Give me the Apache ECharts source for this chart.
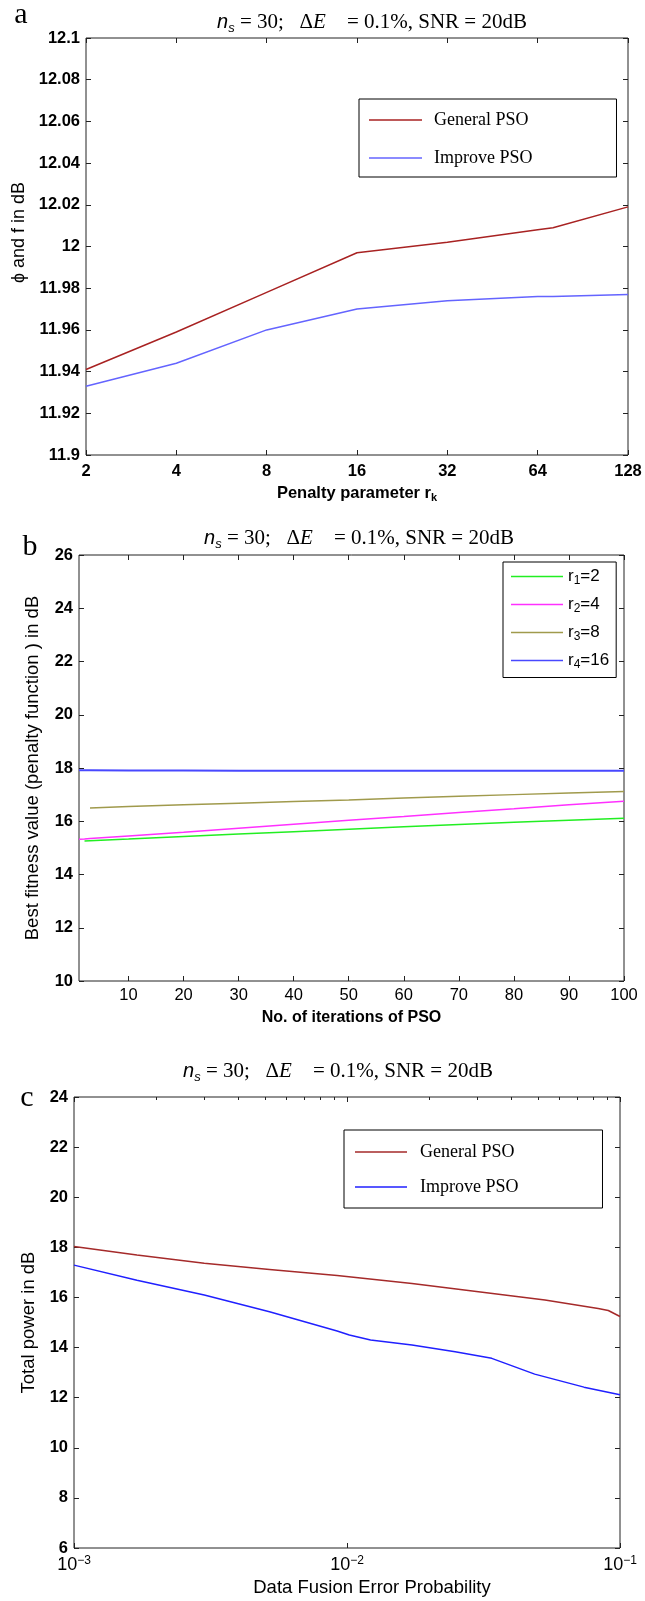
<!DOCTYPE html>
<html>
<head>
<meta charset="utf-8">
<script src="https://cdn.jsdelivr.net/npm/echarts@6/dist/echarts.min.js"></script>
<style>
html, body { margin: 0; padding: 0; background: #fff; }
#chart { width: 645px; height: 1601px; }
</style>
</head>
<body>
<div id="chart"></div>
<script>
// panel a: penalty parameter sweep
var penaltyR = [2, 4, 8, 16, 32, 64, 72, 128];
var generalA = [11.941, 11.959, 11.978, 11.997, 12.002, 12.008, 12.009, 12.019];
var improveA = [11.933, 11.944, 11.960, 11.970, 11.974, 11.976, 11.976, 11.977];
var yTicksA = [11.9, 12.1, 0.02];
var xTicksA = [2, 4, 8, 16, 32, 64, 128];

// panel b: best fitness vs iterations
var iterB = [1, 2, 3, 10, 20, 30, 40, 50, 60, 70, 80, 90, 100];
var r1B = [null, 15.26, 15.27, 15.33, 15.43, 15.52, 15.61, 15.70, 15.79, 15.88, 15.96, 16.04, 16.11];
var r2B = [15.32, 15.33, 15.35, 15.45, 15.59, 15.74, 15.89, 16.04, 16.18, 16.33, 16.47, 16.62, 16.75];
var r3B = [null, null, 16.50, 16.55, 16.62, 16.68, 16.74, 16.80, 16.87, 16.94, 17.00, 17.06, 17.12];
var r4B = [17.92, 17.92, 17.92, 17.91, 17.91, 17.90, 17.90, 17.90, 17.90, 17.90, 17.90, 17.90, 17.90];
var namesB = ['r1=2', 'r2=4', 'r3=8', 'r4=16'];
var xTicksB = [10, 20, 30, 40, 50, 60, 70, 80, 90, 100];

// panel c: total power vs data fusion error probability
var pfeGen = [0.001, 0.0017, 0.003, 0.0052, 0.0092, 0.0173, 0.0303, 0.0531, 0.0832, 0.0906, 0.1];
var generalC = [18.03, 17.69, 17.36, 17.12, 16.88, 16.56, 16.23, 15.90, 15.56, 15.48, 15.24];
var pfeImp = [0.001, 0.0017, 0.003, 0.0052, 0.0092, 0.0102, 0.0122, 0.0173, 0.0249, 0.0339, 0.0487, 0.0738, 0.1];
var improveC = [17.29, 16.69, 16.10, 15.43, 14.66, 14.50, 14.30, 14.10, 13.83, 13.57, 12.94, 12.42, 12.12];
var xMajorC = [0.001, 0.01, 0.1];
var xMinorC = [0.002, 0.003, 0.004, 0.005, 0.006, 0.007, 0.008, 0.009,
               0.02, 0.03, 0.04, 0.05, 0.06, 0.07, 0.08, 0.09];

var sans = 'Liberation Sans, Arial, sans-serif';
var serif = 'Liberation Serif, Times New Roman, serif';
var ink = '#222';

function pairs(xs, ys) {
    return xs.map(function (x, i) { return [x, ys[i]]; });
}

var tickStyle = { inside: true, length: 5, lineStyle: { color: ink, width: 1 } };

function hiddenAxis(extra) {
    var o = {
        axisLine: { show: false },
        axisLabel: { show: false },
        splitLine: { show: false },
        axisTick: tickStyle
    };
    for (var k in extra) o[k] = extra[k];
    return o;
}

var titleRich = {
    n: { fontFamily: sans, fontStyle: 'italic', fontSize: 20, fill: '#000', lineHeight: 26 },
    s: { fontFamily: sans, fontStyle: 'italic', fontSize: 13, fill: '#000', verticalAlign: 'bottom', lineHeight: 13 },
    t: { fontFamily: serif, fontSize: 21, fill: '#000', lineHeight: 26 },
    e: { fontFamily: serif, fontStyle: 'italic', fontSize: 21, fill: '#000', lineHeight: 26 }
};
var titleText = '{n|n}{s|s}{t| = 30;   Δ}{e|E}{t|    = 0.1%, SNR = 20dB}';

function titleAt(x, y) {
    return { type: 'text', x: x, y: y, style: { text: titleText, rich: titleRich, align: 'center', verticalAlign: 'middle' } };
}
function letterAt(t, x, y) {
    return { type: 'text', x: x, y: y, style: { text: t, font: '30px ' + serif, fill: '#000', align: 'center', verticalAlign: 'middle' } };
}

var option = {
    animation: false,
    backgroundColor: '#fff',
    grid: [
        { left: 86, top: 38, width: 542, height: 417, show: true, borderColor: ink, borderWidth: 1 },
        { left: 79, top: 555, width: 545, height: 426, show: true, borderColor: ink, borderWidth: 1 },
        { left: 74, top: 1097, width: 546, height: 451, show: true, borderColor: ink, borderWidth: 1 }
    ],
    graphic: [
        titleAt(372, 22), letterAt('a', 21, 15),
        titleAt(359, 538), letterAt('b', 30, 547),
        titleAt(338, 1071), letterAt('c', 27, 1098)
    ],
    xAxis: [
        {   // 0: a bottom
            gridIndex: 0, type: 'log', logBase: 2, min: 2, max: 128,
            axisLine: { show: false }, splitLine: { show: false },
            axisTick: { inside: true, length: 5, lineStyle: { color: ink }, customValues: xTicksA },
            axisLabel: { customValues: xTicksA, margin: 8, fontFamily: sans, fontSize: 16.5, fontWeight: 'bold', color: '#000',
                formatter: function (v) { return String(Math.round(v)); } },
            name: '{b|Penalty parameter r}{k|k}', nameLocation: 'middle', nameGap: 28,
            nameTextStyle: { rich: {
                b: { fontFamily: sans, fontSize: 16.5, fontWeight: 'bold', color: '#000', lineHeight: 20 },
                k: { fontFamily: sans, fontSize: 11, fontWeight: 'bold', color: '#000', verticalAlign: 'bottom', lineHeight: 11 }
            } }
        },
        hiddenAxis({ gridIndex: 0, type: 'log', logBase: 2, min: 2, max: 128, position: 'top',
            axisTick: { inside: true, length: 5, lineStyle: { color: ink }, customValues: xTicksA } }),
        {   // 2: b bottom
            gridIndex: 1, type: 'value', min: 1, max: 100,
            axisLine: { show: false }, splitLine: { show: false },
            axisTick: { inside: true, length: 5, lineStyle: { color: ink }, customValues: xTicksB },
            axisLabel: { customValues: xTicksB, margin: 6, fontFamily: sans, fontSize: 16.5, color: '#000' },
            name: 'No. of iterations of PSO', nameLocation: 'middle', nameGap: 29,
            nameTextStyle: { fontFamily: sans, fontSize: 16, fontWeight: 'bold', color: '#000' }
        },
        hiddenAxis({ gridIndex: 1, type: 'value', min: 1, max: 100, position: 'top',
            axisTick: { inside: true, length: 5, lineStyle: { color: ink }, customValues: xTicksB } }),
        {   // 4: c bottom
            gridIndex: 2, type: 'log', logBase: 10, min: 0.001, max: 0.1,
            axisLine: { show: false }, splitLine: { show: false },
            axisTick: { inside: true, length: 5, lineStyle: { color: ink }, customValues: xMajorC },
            axisLabel: { customValues: xMajorC, margin: 7,
                formatter: function (v) { return '{b|10}{s|\u2212' + Math.round(-Math.log10(v)) + '}'; },
                rich: {
                    b: { fontFamily: sans, fontSize: 18, color: '#000', lineHeight: 21 },
                    s: { fontFamily: sans, fontSize: 12, color: '#000', verticalAlign: 'top', lineHeight: 12 }
                } },
            name: 'Data Fusion Error Probability', nameLocation: 'middle', nameGap: 30,
            nameTextStyle: { fontFamily: sans, fontSize: 18.5, color: '#000', padding: [0, 0, 0, 50] }
        },
        hiddenAxis({ gridIndex: 2, type: 'log', logBase: 10, min: 0.001, max: 0.1,
            axisTick: { inside: true, length: 3, lineStyle: { color: ink }, customValues: xMinorC } }),
        hiddenAxis({ gridIndex: 2, type: 'log', logBase: 10, min: 0.001, max: 0.1, position: 'top',
            axisTick: { inside: true, length: 5, lineStyle: { color: ink }, customValues: xMajorC } }),
        hiddenAxis({ gridIndex: 2, type: 'log', logBase: 10, min: 0.001, max: 0.1, position: 'top',
            axisTick: { inside: true, length: 3, lineStyle: { color: ink }, customValues: xMinorC } })
    ],
    yAxis: [
        {   // 0: a left
            gridIndex: 0, type: 'value', min: yTicksA[0], max: yTicksA[1], interval: yTicksA[2],
            axisLine: { show: false }, splitLine: { show: false }, axisTick: tickStyle,
            axisLabel: { margin: 6, fontFamily: sans, fontSize: 16.5, fontWeight: 'bold', color: '#000',
                formatter: function (v) { return String(+v.toFixed(2)); } },
            name: '\u03d5 and f in dB', nameLocation: 'middle', nameGap: 57,
            nameTextStyle: { fontFamily: sans, fontSize: 18, color: '#000', padding: [0, 0, 0, 28] }
        },
        hiddenAxis({ gridIndex: 0, type: 'value', min: yTicksA[0], max: yTicksA[1], interval: yTicksA[2], position: 'right' }),
        {   // 2: b left
            gridIndex: 1, type: 'value', min: 10, max: 26, interval: 2,
            axisLine: { show: false }, splitLine: { show: false }, axisTick: tickStyle,
            axisLabel: { margin: 6, fontFamily: sans, fontSize: 16.5, fontWeight: 'bold', color: '#000' },
            name: 'Best fitness value (penalty function ) in dB', nameLocation: 'middle', nameGap: 37,
            nameTextStyle: { fontFamily: sans, fontSize: 18.5, color: '#000' }
        },
        hiddenAxis({ gridIndex: 1, type: 'value', min: 10, max: 26, interval: 2, position: 'right' }),
        {   // 4: c left
            gridIndex: 2, type: 'value', min: 6, max: 24, interval: 2,
            axisLine: { show: false }, splitLine: { show: false }, axisTick: tickStyle,
            axisLabel: { margin: 6, fontFamily: sans, fontSize: 16.5, fontWeight: 'bold', color: '#000' },
            name: 'Total power in dB', nameLocation: 'middle', nameGap: 30,
            nameTextStyle: { fontFamily: sans, fontSize: 18.5, color: '#000' }
        },
        hiddenAxis({ gridIndex: 2, type: 'value', min: 6, max: 24, interval: 2, position: 'right' })
    ],
    legend: [
        {
            data: ['a:General PSO', 'a:Improve PSO'], orient: 'vertical', left: 359, top: 99,
            padding: [11, 84, 9, 10], itemGap: 18, itemWidth: 53, itemHeight: 1.5, icon: 'rect',
            borderColor: '#000', borderWidth: 1, backgroundColor: '#fff', selectedMode: false,
            formatter: function (n) { return n.slice(2); },
            textStyle: { fontFamily: serif, fontSize: 18, color: '#000', padding: [0, 0, 0, 7], lineHeight: 20 }
        },
        {
            data: namesB, orient: 'vertical', left: 503, top: 562,
            padding: [6, 7, 7, 8], itemGap: 9.5, itemWidth: 52, itemHeight: 1.5, icon: 'rect',
            borderColor: '#000', borderWidth: 1, backgroundColor: '#fff', selectedMode: false,
            formatter: function (n) { return '{r|r}{s|' + n.charAt(1) + '}{r|' + n.slice(2) + '}'; },
            textStyle: { rich: {
                r: { fontFamily: sans, fontSize: 17, color: '#000', lineHeight: 20 },
                s: { fontFamily: sans, fontSize: 12, color: '#000', verticalAlign: 'bottom', lineHeight: 12 }
            } }
        },
        {
            data: ['c:General PSO', 'c:Improve PSO'], orient: 'vertical', left: 344, top: 1130,
            padding: [12, 84, 11, 11], itemGap: 15, itemWidth: 52, itemHeight: 1.5, icon: 'rect',
            borderColor: '#000', borderWidth: 1, backgroundColor: '#fff', selectedMode: false,
            formatter: function (n) { return n.slice(2); },
            textStyle: { fontFamily: serif, fontSize: 18, color: '#000', padding: [0, 0, 0, 8], lineHeight: 20 }
        }
    ],
    series: [
        { name: 'a:General PSO', type: 'line', xAxisIndex: 0, yAxisIndex: 0, symbol: 'none',
          lineStyle: { color: '#a82222', width: 1.5 }, itemStyle: { color: '#a82222' }, data: pairs(penaltyR, generalA) },
        { name: 'a:Improve PSO', type: 'line', xAxisIndex: 0, yAxisIndex: 0, symbol: 'none',
          lineStyle: { color: '#6464ff', width: 1.5 }, itemStyle: { color: '#6464ff' }, data: pairs(penaltyR, improveA) },

        { name: namesB[0], type: 'line', xAxisIndex: 2, yAxisIndex: 2, symbol: 'none', connectNulls: true,
          lineStyle: { color: '#22ee22', width: 1.5 }, itemStyle: { color: '#22ee22' }, data: pairs(iterB, r1B) },
        { name: namesB[1], type: 'line', xAxisIndex: 2, yAxisIndex: 2, symbol: 'none', connectNulls: true,
          lineStyle: { color: '#ff30ff', width: 1.5 }, itemStyle: { color: '#ff30ff' }, data: pairs(iterB, r2B) },
        { name: namesB[2], type: 'line', xAxisIndex: 2, yAxisIndex: 2, symbol: 'none', connectNulls: true,
          lineStyle: { color: '#a09a4c', width: 1.5 }, itemStyle: { color: '#a09a4c' }, data: pairs(iterB, r3B) },
        { name: namesB[3], type: 'line', xAxisIndex: 2, yAxisIndex: 2, symbol: 'none', connectNulls: true,
          lineStyle: { color: '#4848ff', width: 2 }, itemStyle: { color: '#4848ff' }, data: pairs(iterB, r4B) },

        { name: 'c:General PSO', type: 'line', xAxisIndex: 4, yAxisIndex: 4, symbol: 'none',
          lineStyle: { color: '#a52a2a', width: 1.5 }, itemStyle: { color: '#a52a2a' }, data: pairs(pfeGen, generalC) },
        { name: 'c:Improve PSO', type: 'line', xAxisIndex: 4, yAxisIndex: 4, symbol: 'none',
          lineStyle: { color: '#2020ff', width: 1.5 }, itemStyle: { color: '#2020ff' }, data: pairs(pfeImp, improveC) }
    ]
};

var chart = echarts.init(document.getElementById('chart'));
chart.setOption(option);
</script>
</body>
</html>
